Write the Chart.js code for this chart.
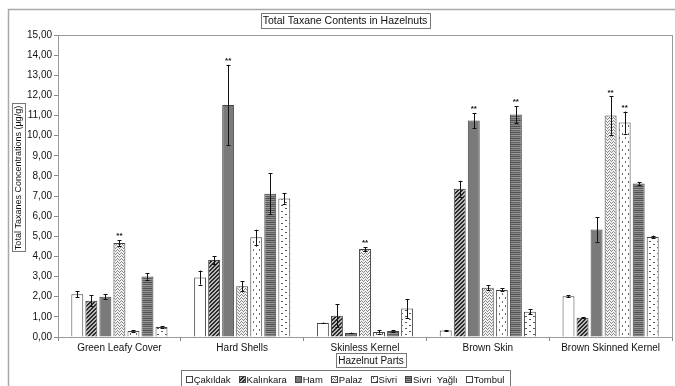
<!DOCTYPE html>
<html>
<head>
<meta charset="utf-8">
<script src="https://cdn.jsdelivr.net/npm/chart.js@4/dist/chart.umd.min.js"></script>
<style>
  html, body { margin: 0; padding: 0; background: #fff; }
  #wrap { width: 675px; height: 386px; }
</style>
</head>
<body>
<div id="wrap"><canvas id="c" width="675" height="386"></canvas></div>
<script>
// Hazelnut parts (categories)
const parts = ['Green Leafy Cover', 'Hard Shells', 'Skinless Kernel', 'Brown Skin', 'Brown Skinned Kernel'];

// Cultivar names
const cultivars = ['Çakıldak', 'Kalınkara', 'Ham', 'Palaz', 'Sivri', 'Sivri  Yağlı', 'Tombul'];

// Mean total taxane content (µg/g) per cultivar, by part
const cakildak   = [2.12, 2.95, 0.70, 0.32, 2.02];
const kalinkara  = [1.80, 3.82, 1.05, 7.36, 0.95];
const ham        = [2.00, 11.52, 0.20, 10.75, 5.34];
const palaz      = [4.67, 2.52, 4.37, 2.44, 11.00];
const sivri      = [0.30, 4.95, 0.25, 2.34, 10.65];
const sivriYagli = [3.00, 7.12, 0.30, 11.05, 7.63];
const tombul     = [0.50, 6.88, 1.42, 1.25, 4.97];

// Standard deviations
const cakildakErr   = [0.15, 0.35, 0.02, 0.03, 0.05];
const kalinkaraErr  = [0.27, 0.20, 0.57, 0.40, 0.03];
const hamErr        = [0.12, 2.00, 0.02, 0.38, 0.60];
const palazErr      = [0.14, 0.24, 0.10, 0.12, 0.95];
const sivriErr      = [0.03, 0.38, 0.08, 0.08, 0.55];
const sivriYagliErr = [0.16, 1.02, 0.05, 0.42, 0.07];
const tombulErr     = [0.03, 0.26, 0.47, 0.12, 0.07];

// Significance marks (**) per cultivar, by part
const cakildakSig   = [0, 0, 0, 0, 0];
const kalinkaraSig  = [0, 0, 0, 0, 0];
const hamSig        = [0, 1, 0, 1, 0];
const palazSig      = [1, 0, 1, 0, 1];
const sivriSig      = [0, 0, 0, 0, 1];
const sivriYagliSig = [0, 0, 0, 1, 0];
const tombulSig     = [0, 0, 0, 0, 0];

// Y axis range
const yMin = 0, yMax = 15, yStep = 1;

const values = [cakildak, kalinkara, ham, palaz, sivri, sivriYagli, tombul];
const errors = [cakildakErr, kalinkaraErr, hamErr, palazErr, sivriErr, sivriYagliErr, tombulErr];
const sigs   = [cakildakSig, kalinkaraSig, hamSig, palazSig, sivriSig, sivriYagliSig, tombulSig];

const FONT = '"Liberation Sans", Arial, sans-serif';

// ---- fill patterns ----
function tile(w, h, paint) {
  const cv = document.createElement('canvas');
  cv.width = w; cv.height = h;
  const g = cv.getContext('2d');
  paint(g, w, h);
  return g.createPattern(cv, 'repeat');
}
const fills = [
  '#ffffff',
  tile(4, 4, (g) => { // diagonal hatch
    g.fillStyle = '#b8b8b8'; g.fillRect(0, 0, 4, 4);
    g.fillStyle = '#2a2a2a';
    for (let i = 0; i < 4; i++) { g.fillRect(i, 3 - i, 1, 1); g.fillRect(i, (4 - i) % 4, 1, 1); }
  }),
  '#7a7a7a',
  tile(4, 3, (g) => { // zig-zag
    g.fillStyle = '#f2f2f2'; g.fillRect(0, 0, 4, 3);
    g.fillStyle = '#8a8a8a';
    g.fillRect(0, 1, 1, 1); g.fillRect(1, 0, 1, 1); g.fillRect(2, 1, 1, 1); g.fillRect(3, 2, 1, 1);
  }),
  tile(6, 8, (g) => { // dots
    g.fillStyle = '#ffffff'; g.fillRect(0, 0, 6, 8);
    g.fillStyle = '#6a6a6a';
    g.fillRect(1, 1, 1, 2); g.fillRect(4, 5, 1, 2);
  }),
  tile(1, 6, (g) => { // horizontal stripes
    const rows = ['#505050', '#8c8c8c', '#5a5a5a', '#9a9a9a', '#626262', '#888888'];
    rows.forEach((c, i) => { g.fillStyle = c; g.fillRect(0, i, 1, 1); });
  }),
  tile(8, 6, (g) => { // dashes
    g.fillStyle = '#ffffff'; g.fillRect(0, 0, 8, 6);
    g.fillStyle = '#555555';
    g.fillRect(1, 1, 2, 1); g.fillRect(5, 4, 2, 1);
  })
];

// ---- frame, titles and legend ----
const decor = {
  id: 'decor',
  beforeDraw(chart) {
    const ctx = chart.ctx;
    ctx.save();
    ctx.fillStyle = '#fff';
    ctx.fillRect(0, 0, chart.width, chart.height);
    ctx.strokeStyle = '#a8a8a8';
    ctx.lineWidth = 1.5;
    ctx.strokeRect(8.5, 9.5, chart.width + 20, chart.height + 20);
    ctx.restore();
  },
  afterDraw(chart) {
    const ctx = chart.ctx;
    const a = chart.chartArea;
    ctx.save();
    // plot border
    ctx.strokeStyle = '#9a9a9a';
    ctx.lineWidth = 1;
    ctx.strokeRect(Math.round(a.left) + 0.5, Math.round(a.top) + 0.5, Math.round(a.right - a.left), Math.round(a.bottom - a.top));

    function boxedText(text, cx, cy, size, rot) {
      ctx.save();
      ctx.translate(cx, cy);
      if (rot) ctx.rotate(-Math.PI / 2);
      ctx.font = size + 'px ' + FONT;
      const w = ctx.measureText(text).width;
      ctx.fillStyle = '#fff';
      ctx.fillRect(-w / 2 - 2, -size / 2 - 2, w + 4, size + 4);
      ctx.strokeStyle = '#777';
      ctx.lineWidth = 1;
      ctx.strokeRect(Math.round(-w / 2 - 2) + 0.5, Math.round(-size / 2 - 2) + 0.5, Math.round(w + 4), Math.round(size + 4));
      ctx.fillStyle = '#111';
      ctx.textAlign = 'center';
      ctx.textBaseline = 'middle';
      ctx.fillText(text, 0, 1);
      ctx.restore();
    }
    boxedText('Total Taxane Contents in Hazelnuts', 345, 20, 10.5, false);
    boxedText('Total Taxanes Concentrations (µg/g)', 18, 178, 9, true);
    boxedText('Hazelnut Parts', 371, 360, 10, false);

    // legend
    ctx.font = '9.5px ' + FONT;
    const sw = 6, gapBox = 2, gapItem = 8, pad = 5;
    let total = 0;
    const widths = cultivars.map(n => ctx.measureText(n).width);
    widths.forEach(w => total += sw + gapBox + w);
    total += gapItem * (cultivars.length - 1);
    const cx = 345, cy = 379;
    const lx0 = Math.round(cx - total / 2 - pad);
    const lw = Math.round(total + 2 * pad);
    let x = cx - total / 2;
    ctx.strokeStyle = '#777';
    ctx.strokeRect(lx0 + 0.5, 370.5, lw, 17);
    ctx.textBaseline = 'middle';
    ctx.textAlign = 'left';
    cultivars.forEach((n, i) => {
      ctx.fillStyle = fills[i];
      ctx.fillRect(Math.round(x), cy - 3, sw, sw);
      ctx.strokeStyle = '#444';
      ctx.strokeRect(Math.round(x) + 0.5, cy - 3 + 0.5, sw, sw);
      ctx.fillStyle = '#111';
      ctx.fillText(n, x + sw + gapBox, cy + 1);
      x += sw + gapBox + widths[i] + gapItem;
    });
    ctx.restore();
  }
};

// ---- error bars and significance marks ----
const errorBars = {
  id: 'errorBars',
  afterDatasetsDraw(chart) {
    const ctx = chart.ctx;
    const ys = chart.scales.y;
    ctx.save();
    ctx.strokeStyle = '#111';
    ctx.lineWidth = 1;
    chart.data.datasets.forEach((ds, i) => {
      const meta = chart.getDatasetMeta(i);
      meta.data.forEach((bar, j) => {
        const v = values[i][j], e = errors[i][j];
        const x = Math.round(bar.x) + 0.5;
        const yTop = ys.getPixelForValue(v + e);
        const yBot = ys.getPixelForValue(Math.max(0, v - e));
        ctx.beginPath();
        ctx.moveTo(x, yTop); ctx.lineTo(x, yBot);
        ctx.moveTo(x - 2, Math.round(yTop) + 0.5); ctx.lineTo(x + 2, Math.round(yTop) + 0.5);
        ctx.moveTo(x - 2, Math.round(yBot) + 0.5); ctx.lineTo(x + 2, Math.round(yBot) + 0.5);
        ctx.stroke();
        if (sigs[i][j]) {
          ctx.fillStyle = '#111';
          ctx.font = 'bold 8px ' + FONT;
          ctx.textAlign = 'center';
          ctx.textBaseline = 'bottom';
          ctx.fillText('**', bar.x, yTop);
        }
      });
    });
    ctx.restore();
  }
};

const fmt = v => v.toFixed(2).replace('.', ',');

new Chart(document.getElementById('c'), {
  type: 'bar',
  data: {
    labels: parts,
    datasets: cultivars.map((name, i) => ({
      label: name,
      data: values[i],
      backgroundColor: fills[i],
      borderColor: '#444',
      borderWidth: 1,
      categoryPercentage: 0.8,
      barPercentage: 0.85
    }))
  },
  options: {
    responsive: false,
    animation: false,
    devicePixelRatio: 1,
    layout: { padding: { top: 35, right: 3, left: 0, bottom: 29 } },
    plugins: {
      legend: { display: false },
      title: { display: false },
      tooltip: { enabled: false }
    },
    scales: {
      x: {
        grid: { drawOnChartArea: false, tickLength: 4, color: '#888', offset: true },
        border: { color: '#888' },
        ticks: { color: '#111', font: { family: FONT, size: 10 }, padding: 1, maxRotation: 0 },
        afterFit(s) { s.height = 20; }
      },
      y: {
        min: yMin, max: yMax,
        grid: { drawOnChartArea: false, tickLength: 4, color: '#888' },
        border: { color: '#888' },
        ticks: { stepSize: yStep, color: '#111', font: { family: FONT, size: 10 }, padding: 2, callback: v => fmt(v) },
        afterFit(s) { s.width = 58; }
      }
    }
  },
  plugins: [decor, errorBars]
});
</script>
</body>
</html>
